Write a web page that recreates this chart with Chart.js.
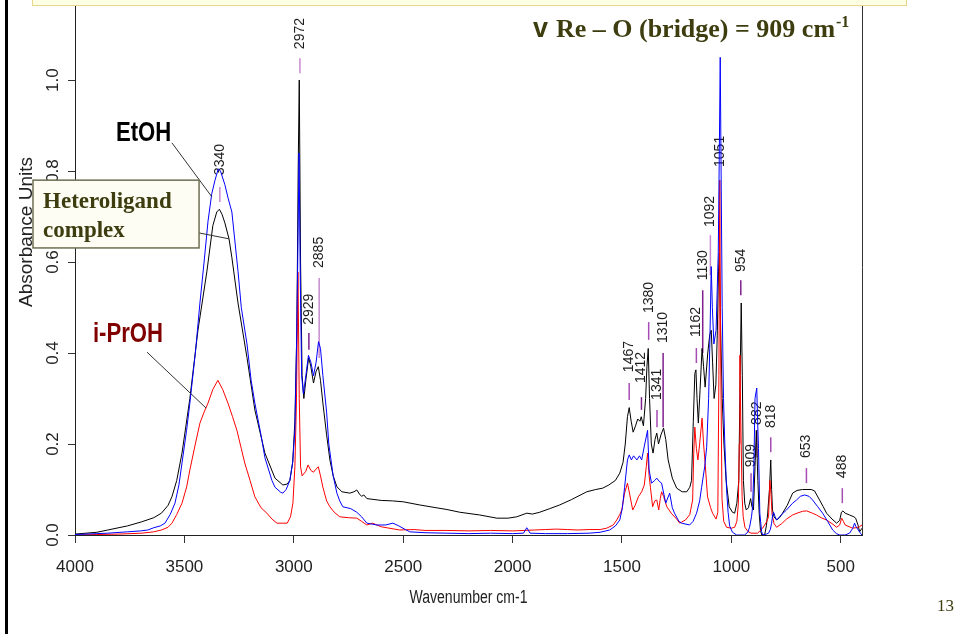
<!DOCTYPE html>
<html>
<head>
<meta charset="utf-8">
<title>IR spectra</title>
<script src="https://cdn.jsdelivr.net/npm/chart.js@4.4.1/dist/chart.umd.min.js"></script>
<style>
    html, body { margin: 0; padding: 0; background: #fff; }
    #wrap { position: relative; width: 954px; height: 634px; overflow: hidden; }
    #irChart { position: absolute; left: 0; top: 0; }
    .edge { position: absolute; left: 5px; top: 0; width: 3px; height: 634px; background: #000; }
    .banner { position: absolute; left: 32px; top: -1px; width: 873px; height: 5px; background: #ffffe4; border: 1px solid #e8d68c; }
    .slide-no { position: absolute; left: 937px; top: 596px; font: 17px "Liberation Serif", "Times New Roman", serif; color: #3d3d10; }
</style>
</head>
<body>
<div id="wrap">
    <canvas id="irChart" width="954" height="634"></canvas>
    <div class="edge"></div>
    <div class="banner"></div>
    <div class="slide-no">13</div>
</div>
<script>
// axis ticks
const xTicks = [4000, 3500, 3000, 2500, 2000, 1500, 1000, 500];
const yTicks = [0, 0.2, 0.4, 0.6, 0.8, 1.0];

// Heteroligand complex (black)
const hetWn = [4000,3900,3850,3760,3695,3640,3605,3575,3557,3535,
    3511,3475,3438,3397,3370,3352,3340,3328,3315,3296,
    3283,3255,3214,3178,3132,3086,3050,3030,3018,3005,
    2995,2986,2980,2975,2969,2962,2954,2945,2932,2922,
    2910,2898,2888,2878,2867,2850,2835,2820,2803,2780,
    2744,2725,2712,2700,2690,2680,2666,2600,2550,2500,
    2424,2350,2300,2241,2150,2072,2020,1981,1935,1910,
    1876,1830,1785,1730,1661,1620,1588,1560,1530,1510,
    1495,1485,1475,1467,1458,1449,1438,1428,1418,1412,
    1402,1392,1386,1380,1374,1366,1358,1349,1341,1333,
    1322,1310,1300,1289,1270,1250,1225,1204,1190,1182,
    1174,1167,1162,1157,1151,1143,1134,1127,1120,1108,
    1099,1092,1086,1079,1071,1064,1059,1055,1049,1042,
    1034,1024,1010,995,985,975,966,960,955,950,
    945,939,932,922,912,906,899,892,886,879,
    873,867,861,848,840,834,826,820,816,812,
    805,793,780,766,745,720,700,675,650,635,
    620,597,580,565,540,519,505,497,490,480,
    460,440,432,420,414,403];
const hetAbs = [0.002,0.006,0.011,0.02,0.029,0.038,0.048,0.065,0.084,0.12,
    0.18,0.30,0.45,0.58,0.68,0.71,0.716,0.705,0.686,0.651,
    0.61,0.51,0.39,0.275,0.18,0.125,0.11,0.112,0.12,0.16,
    0.25,0.45,0.8,1.0,0.6,0.35,0.30,0.34,0.39,0.37,
    0.334,0.36,0.37,0.34,0.29,0.22,0.165,0.13,0.106,0.095,
    0.092,0.095,0.099,0.09,0.085,0.088,0.08,0.076,0.075,0.073,
    0.066,0.06,0.056,0.05,0.044,0.037,0.037,0.04,0.048,0.046,
    0.05,0.058,0.066,0.078,0.095,0.1,0.103,0.11,0.12,0.136,
    0.16,0.2,0.26,0.28,0.25,0.226,0.24,0.255,0.25,0.26,
    0.24,0.3,0.37,0.41,0.3,0.2,0.18,0.21,0.224,0.2,
    0.22,0.235,0.21,0.165,0.125,0.103,0.095,0.095,0.105,0.12,
    0.25,0.355,0.363,0.3,0.246,0.32,0.41,0.37,0.325,0.4,
    0.44,0.45,0.38,0.3,0.33,0.45,0.58,0.62,0.45,0.3,
    0.2,0.12,0.062,0.05,0.048,0.07,0.12,0.35,0.51,0.35,
    0.12,0.07,0.055,0.06,0.08,0.062,0.055,0.15,0.23,0.12,
    0.048,0.01,0.0,0.0,0.02,0.048,0.1,0.165,0.1,0.055,
    0.04,0.033,0.038,0.048,0.065,0.092,0.098,0.1,0.1,0.1,
    0.097,0.077,0.062,0.048,0.035,0.026,0.032,0.05,0.053,0.048,
    0.044,0.04,0.037,0.02,0.007,0.015];

// EtOH (blue)
const etohWn = [4000,3900,3850,3760,3700,3667,3640,3610,3589,3565,
    3543,3525,3511,3490,3475,3450,3429,3410,3392,3375,
    3360,3345,3335,3315,3300,3283,3255,3240,3214,3195,
    3178,3150,3132,3100,3086,3060,3050,3035,3018,3005,
    2995,2988,2982,2976,2970,2964,2956,2945,2933,2922,
    2910,2898,2887,2878,2867,2850,2840,2820,2803,2790,
    2776,2740,2712,2690,2666,2620,2580,2547,2520,2490,
    2470,2400,2300,2200,2100,2000,1950,1935,1920,1850,
    1750,1650,1600,1556,1530,1510,1498,1488,1475,1467,
    1457,1447,1432,1420,1410,1396,1383,1376,1365,1350,
    1341,1330,1319,1300,1282,1270,1260,1240,1227,1191,
    1175,1159,1145,1136,1122,1113,1104,1099,1092,1087,
    1080,1070,1060,1055,1051,1047,1042,1036,1030,1022,
    1015,1008,995,976,960,940,925,917,908,903,
    897,892,884,880,876,870,862,857,840,830,
    822,816,811,807,800,793,770,748,720,702,
    685,665,645,629,605,583,560,537,520,505,
    480,460,445,437,430,420,410,403];
const etohAbs = [0.001,0.003,0.004,0.007,0.009,0.011,0.016,0.02,0.026,0.045,
    0.07,0.11,0.158,0.23,0.29,0.4,0.51,0.6,0.69,0.75,
    0.78,0.805,0.80,0.77,0.74,0.71,0.58,0.5,0.42,0.34,
    0.29,0.22,0.17,0.12,0.105,0.094,0.092,0.1,0.12,0.16,
    0.23,0.4,0.6,0.84,0.55,0.35,0.31,0.35,0.395,0.38,
    0.35,0.38,0.425,0.41,0.35,0.27,0.2,0.13,0.092,0.075,
    0.062,0.058,0.05,0.04,0.026,0.022,0.022,0.026,0.02,0.012,
    0.007,0.005,0.004,0.003,0.004,0.003,0.004,0.016,0.004,0.003,
    0.003,0.004,0.006,0.011,0.02,0.033,0.06,0.105,0.165,0.176,
    0.165,0.174,0.165,0.174,0.165,0.2,0.23,0.143,0.114,0.12,
    0.125,0.118,0.114,0.07,0.092,0.06,0.048,0.03,0.026,0.022,
    0.03,0.048,0.075,0.105,0.15,0.193,0.3,0.41,0.59,0.5,
    0.42,0.45,0.62,0.85,1.05,0.8,0.5,0.3,0.2,0.1,
    0.05,0.02,0.006,0.0,0.0,0.0,0.006,0.017,0.04,0.062,
    0.15,0.30,0.323,0.25,0.19,0.048,0.008,0.0,0.002,0.004,
    0.012,0.026,0.045,0.05,0.04,0.033,0.045,0.055,0.07,0.077,
    0.085,0.088,0.085,0.077,0.062,0.048,0.03,0.011,0.003,0.0,
    0.0,0.004,0.015,0.026,0.018,0.011,0.004,0.0];

// i-PrOH (red)
const iprWn = [4000,3900,3800,3695,3640,3605,3575,3557,3535,3511,
    3490,3475,3450,3429,3410,3392,3370,3347,3325,3301,
    3280,3260,3240,3224,3200,3178,3150,3123,3100,3077,
    3050,3030,3015,3004,2995,2988,2981,2975,2969,2962,
    2945,2935,2922,2910,2898,2888,2878,2867,2850,2835,
    2815,2790,2750,2712,2690,2666,2640,2600,2516,2450,
    2400,2300,2200,2100,2000,1900,1850,1800,1750,1700,
    1650,1600,1570,1540,1524,1510,1501,1488,1475,1465,
    1451,1440,1425,1410,1398,1389,1383,1376,1370,1360,
    1350,1341,1332,1325,1319,1310,1295,1275,1250,1236,
    1210,1190,1177,1172,1167,1160,1153,1145,1134,1127,
    1120,1109,1095,1086,1070,1062,1057,1053,1049,1043,
    1035,1022,1000,985,975,968,964,961,957,951,
    946,938,925,910,880,857,840,830,824,819,
    814,805,793,770,748,720,700,675,656,630,
    611,590,565,540,519,505,496,488,480,446,
    430,415,403];
const iprAbs = [0.0,0.001,0.002,0.004,0.007,0.011,0.017,0.026,0.045,0.07,
    0.105,0.143,0.2,0.246,0.27,0.29,0.32,0.34,0.32,0.29,
    0.26,0.23,0.19,0.158,0.12,0.084,0.06,0.048,0.035,0.026,
    0.026,0.026,0.04,0.07,0.15,0.29,0.578,0.3,0.15,0.13,
    0.14,0.154,0.142,0.138,0.145,0.15,0.13,0.105,0.075,0.062,
    0.05,0.04,0.038,0.037,0.03,0.022,0.026,0.018,0.011,0.012,
    0.01,0.01,0.009,0.01,0.009,0.011,0.012,0.013,0.012,0.011,
    0.012,0.012,0.015,0.022,0.033,0.045,0.055,0.092,0.114,0.09,
    0.055,0.065,0.084,0.095,0.11,0.15,0.18,0.13,0.105,0.062,
    0.075,0.077,0.055,0.08,0.095,0.085,0.062,0.048,0.035,0.026,
    0.033,0.045,0.077,0.18,0.237,0.19,0.165,0.2,0.257,0.2,
    0.158,0.084,0.06,0.048,0.035,0.05,0.35,0.78,0.4,0.08,
    0.03,0.017,0.015,0.017,0.03,0.07,0.2,0.395,0.25,0.084,
    0.04,0.017,0.008,0.004,0.004,0.015,0.028,0.04,0.12,0.09,
    0.045,0.025,0.017,0.025,0.035,0.044,0.048,0.052,0.053,0.048,
    0.044,0.038,0.033,0.025,0.017,0.022,0.037,0.03,0.022,0.015,
    0.016,0.018,0.022];

// peak labels: wavenumber, where the rotated text starts, and the little dash under it
const peakNames = ['3340','2972','2929','2885','1467','1412','1380','1341','1310','1162','1130','1092','1051','954','909','882','818','653','488'];
const peakWn = [3338, 2972, 2931, 2884, 1467, 1411, 1378, 1340, 1312, 1160, 1131, 1096, 1052, 957, 910, 883, 820, 657, 493];
const peakTextAt = [0.791, 1.068, 0.462, 0.587, 0.358, 0.334, 0.488, 0.297, 0.422, 0.435, 0.560, 0.677, 0.809, 0.578, 0.149, 0.242, 0.235, 0.169, 0.125];
const peakDashTop = [0.765, 1.048, 0.444, 0.565, 0.334, 0.303, 0.468, 0.275, 0.400, 0.411, 0.538, 0.659, null, 0.560, 0.136, 0.231, 0.215, 0.147, 0.103];
const peakDashBottom = [0.732, 1.015, 0.407, 0.389, 0.297, 0.275, 0.429, 0.237, 0.237, 0.378, 0.400, 0.571, null, 0.527, 0.095, 0.171, 0.182, 0.114, 0.070];
const peakDashColor = ['#c88ad0','#c88ad0','#7f1f8f','#c88ad0','#a64cb4','#7f1f8f','#a64cb4','#a64cb4','#7f1f8f','#a64cb4',
    '#7f1f8f','#c88ad0',null,'#7f1f8f','#a64cb4','#a64cb4','#a64cb4','#a64cb4','#a64cb4'];

const SANS = "'Liberation Sans', Arial, sans-serif";
const SERIF = "'Liberation Serif', 'Times New Roman', serif";
const OLIVE = '#3d3d10';

function toPoints(xs, ys) {
    return xs.map((x, i) => ({ x: x, y: ys[i] }));
}

// the slide uses a condensed sans, so squeeze the text sideways
function squeezedText(ctx, text, x, y, sx) {
    ctx.save();
    ctx.translate(x, y);
    ctx.scale(sx, 1);
    ctx.fillText(text, 0, 0);
    ctx.restore();
}

const overlay = {
    id: 'overlay',
    beforeDatasetsDraw(chart) {
        const { ctx, chartArea, scales: { x, y } } = chart;
        ctx.save();
        // right frame line
        ctx.strokeStyle = '#333';
        ctx.lineWidth = 1;
        ctx.beginPath();
        ctx.moveTo(chartArea.right + 0.5, chartArea.top);
        ctx.lineTo(chartArea.right + 0.5, chartArea.bottom);
        ctx.stroke();

        // peak labels under the spectra
        ctx.font = '14px ' + SANS;
        ctx.fillStyle = '#1e1e1e';
        ctx.textAlign = 'left';
        ctx.textBaseline = 'middle';
        peakNames.forEach(function(name, i) {
            const px = x.getPixelForValue(peakWn[i]);
            ctx.save();
            ctx.translate(px, y.getPixelForValue(peakTextAt[i]));
            ctx.rotate(-Math.PI / 2);
            ctx.fillText(name, 0, 0);
            ctx.restore();
            if (peakDashTop[i] !== null) {
                ctx.strokeStyle = peakDashColor[i];
                ctx.lineWidth = 1.5;
                ctx.beginPath();
                ctx.moveTo(px, y.getPixelForValue(peakDashTop[i]));
                ctx.lineTo(px, y.getPixelForValue(peakDashBottom[i]));
                ctx.stroke();
            }
        });
        ctx.restore();
    },
    afterDraw(chart) {
        const { ctx, chartArea, scales: { x, y } } = chart;
        const px = v => x.getPixelForValue(v);
        const py = v => y.getPixelForValue(v);
        ctx.save();

        // axis titles
        ctx.fillStyle = '#222';
        ctx.textAlign = 'center';
        ctx.textBaseline = 'middle';
        ctx.font = '18px ' + SANS;
        squeezedText(ctx, 'Wavenumber cm-1', (chartArea.left + chartArea.right) / 2, chartArea.bottom + 63, 0.78);
        ctx.save();
        ctx.translate(27, py(0.666));
        ctx.rotate(-Math.PI / 2);
        ctx.font = '19px ' + SANS;
        ctx.fillText('Absorbance Units', 0, 0);
        ctx.restore();

        // leader lines
        ctx.strokeStyle = '#333';
        ctx.lineWidth = 1;
        [[3557, 0.862, 3374, 0.743], [3433, 0.664, 3296, 0.651], [3671, 0.402, 3401, 0.279]].forEach(function(l) {
            ctx.beginPath();
            ctx.moveTo(px(l[0]), py(l[1]));
            ctx.lineTo(px(l[2]), py(l[3]));
            ctx.stroke();
        });

        // Heteroligand complex box
        const bx = px(4192), by = py(0.780);
        const bw = px(3433) - bx, bh = py(0.631) - by;
        ctx.fillStyle = '#fdfdf3';
        ctx.fillRect(bx, by, bw, bh);
        ctx.strokeStyle = '#6f6f52';
        ctx.lineWidth = 1.5;
        ctx.strokeRect(bx, by, bw, bh);
        ctx.fillStyle = OLIVE;
        ctx.font = 'bold 23px ' + SERIF;
        ctx.textAlign = 'left';
        ctx.textBaseline = 'alphabetic';
        ctx.fillText('Heteroligand', px(4146), py(0.719));
        ctx.fillText('complex', px(4146), py(0.655));

        // series names
        ctx.font = 'bold 27px ' + SANS;
        ctx.fillStyle = '#000';
        squeezedText(ctx, 'EtOH', px(3813), py(0.866), 0.82);
        ctx.fillStyle = '#800000';
        squeezedText(ctx, 'i-PrOH', px(3918), py(0.424), 0.82);

        // Re-O bridge note
        let tx = px(1907);
        const ty = py(1.0945);
        ctx.fillStyle = OLIVE;
        ctx.font = 'bold 27px ' + SANS;
        ctx.fillText('v', tx, ty);
        tx += ctx.measureText('v').width + 8;
        ctx.font = 'bold 26px ' + SERIF;
        const main = 'Re \u2013 O (bridge) = 909 cm';
        ctx.fillText(main, tx, ty);
        tx += ctx.measureText(main).width + 1;
        ctx.font = 'bold 16px ' + SERIF;
        ctx.fillText('-1', tx, ty - 10);

        ctx.restore();
    }
};

const ctx = document.getElementById('irChart').getContext('2d');
const irChart = new Chart(ctx, {
    type: 'line',
    data: {
        datasets: [{
            label: 'EtOH',
            data: toPoints(etohWn, etohAbs),
            borderColor: '#0000ff'
        }, {
            label: 'i-PrOH',
            data: toPoints(iprWn, iprAbs),
            borderColor: '#ff0000'
        }, {
            label: 'Heteroligand complex',
            data: toPoints(hetWn, hetAbs),
            borderColor: '#000000'
        }]
    },
    options: {
        responsive: false,
        animation: false,
        devicePixelRatio: 1,
        layout: {
            padding: { left: 0, right: 92, top: 0, bottom: 0 }
        },
        elements: {
            point: { radius: 0 },
            line: { borderWidth: 1, tension: 0 }
        },
        plugins: {
            legend: { display: false },
            tooltip: { enabled: false }
        },
        scales: {
            x: {
                type: 'linear',
                reverse: true,
                min: 403,
                max: 4000,
                afterBuildTicks: function(s) {
                    s.ticks = xTicks.map(v => ({ value: v }));
                },
                afterFit: function(s) {
                    s.height = 99;
                    s.paddingLeft = 0;
                    s.paddingRight = 0;
                },
                grid: { display: true, drawOnChartArea: false, drawTicks: true, tickLength: 8, color: '#333' },
                border: { display: true, color: '#222', width: 1 },
                ticks: {
                    color: '#222',
                    font: { family: SANS, size: 17 },
                    padding: 14,
                    maxRotation: 0,
                    autoSkip: false,
                    callback: v => String(v)
                }
            },
            y: {
                min: 0,
                max: 1.176,
                afterBuildTicks: function(s) {
                    s.ticks = yTicks.map(v => ({ value: v }));
                },
                afterFit: function(s) {
                    s.width = 75;
                    s.paddingTop = 0;
                    s.paddingBottom = 0;
                },
                grid: { display: true, drawOnChartArea: false, drawTicks: true, tickLength: 7, color: '#333' },
                border: { display: true, color: '#222', width: 1 },
                ticks: {
                    color: '#222',
                    font: { family: SANS, size: 17 },
                    minRotation: 90,
                    maxRotation: 90,
                    crossAlign: 'center',
                    padding: 3,
                    callback: v => v.toFixed(1)
                }
            }
        }
    },
    plugins: [overlay]
});
</script>
</body>
</html>
